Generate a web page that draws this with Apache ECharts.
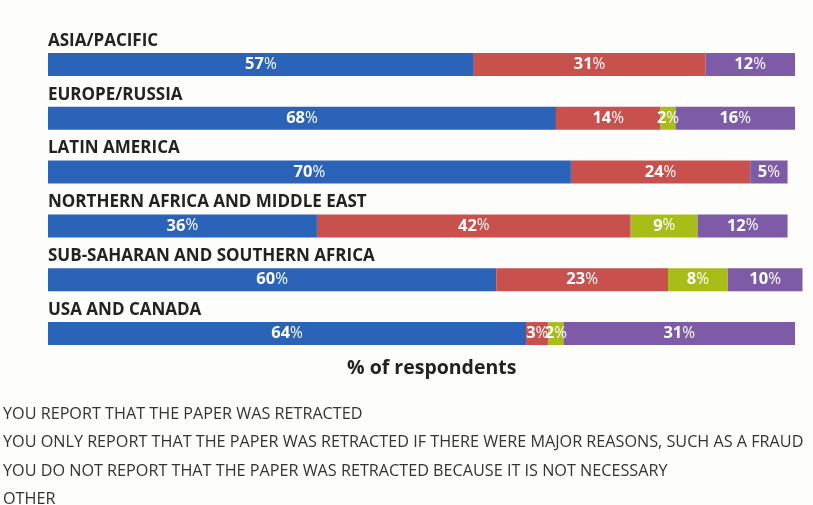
<!DOCTYPE html>
<html><head><meta charset="utf-8">
<script src="https://cdn.jsdelivr.net/npm/echarts@6/dist/echarts.min.js"></script>
<style>html,body{margin:0;padding:0;background:#fdfdfb;}#c{width:813px;height:505px;}</style>
</head><body><div id="c"></div>
<script>
const categories = ['ASIA/PACIFIC','EUROPE/RUSSIA','LATIN AMERICA','NORTHERN AFRICA AND MIDDLE EAST','SUB-SAHARAN AND SOUTHERN AFRICA','USA AND CANADA'];
const seriesNames = [
  'YOU REPORT THAT THE PAPER WAS RETRACTED',
  'YOU ONLY REPORT THAT THE PAPER WAS RETRACTED IF THERE WERE MAJOR REASONS, SUCH AS A FRAUD',
  'YOU DO NOT REPORT THAT THE PAPER WAS RETRACTED BECAUSE IT IS NOT NECESSARY',
  'OTHER'
];
const reportValues = [57, 68, 70, 36, 60, 64];
const majorValues = [31, 14, 24, 42, 23, 3];
const notNecessaryValues = [null, 2, null, 9, 8, 2];
const otherValues = [12, 16, 5, 12, 10, 31];
const colors = ['#2b63b9', '#c8504d', '#a9bd18', '#7e5ba7'];

const allValues = [reportValues, majorValues, notNecessaryValues, otherValues];
const chart = echarts.init(document.getElementById('c'));
const FONT = 'Open Sans';
chart.setOption({
  backgroundColor: '#fdfdfb',
  animation: false,
  textStyle: {fontFamily: FONT},
  title: {
    text: '% of respondents',
    left: 342, top: 353,
    textStyle: {fontFamily: FONT, fontSize: 19.5, fontWeight: 'bold', color: '#222'}
  },
  legend: {
    orient: 'vertical', left: -7, top: 401, height: 130, itemGap: 12.5,
    itemWidth: 0, itemHeight: 0, icon: 'rect', selectedMode: false,
    textStyle: {fontFamily: FONT, fontSize: 16.2, color: '#333'},
    data: seriesNames
  },
  grid: {left: 48, top: 37.5, width: 754.5, height: 323},
  xAxis: {type: 'value', min: 0, max: 101, show: false},
  yAxis: {
    type: 'category', data: categories, inverse: true,
    axisLine: {show: false}, axisTick: {show: false},
    axisLabel: {
      inside: true, margin: 0, verticalAlign: 'bottom', align: 'left',
      padding: [0,0,15,0],
      fontFamily: FONT, fontSize: 17, fontWeight: 'bold', color: '#222'
    }
  },
  series: allValues.map((vals, i) => ({
    name: seriesNames[i], type: 'bar', stack: 'total', barWidth: 23,
    clip: false,
    itemStyle: {color: colors[i]},
    label: {
      show: true, position: 'inside', color: '#fff',
      formatter: p => p.value == null ? '' : '{n|' + p.value + '}{p|%}',
      rich: {
        n: {fontFamily: FONT, fontSize: 16.5, fontWeight: 'bold', color: '#fff'},
        p: {fontFamily: FONT, fontSize: 15.5, fontWeight: 'normal', color: '#fff'}
      }
    },
    data: vals
  }))
});
</script></body></html>
